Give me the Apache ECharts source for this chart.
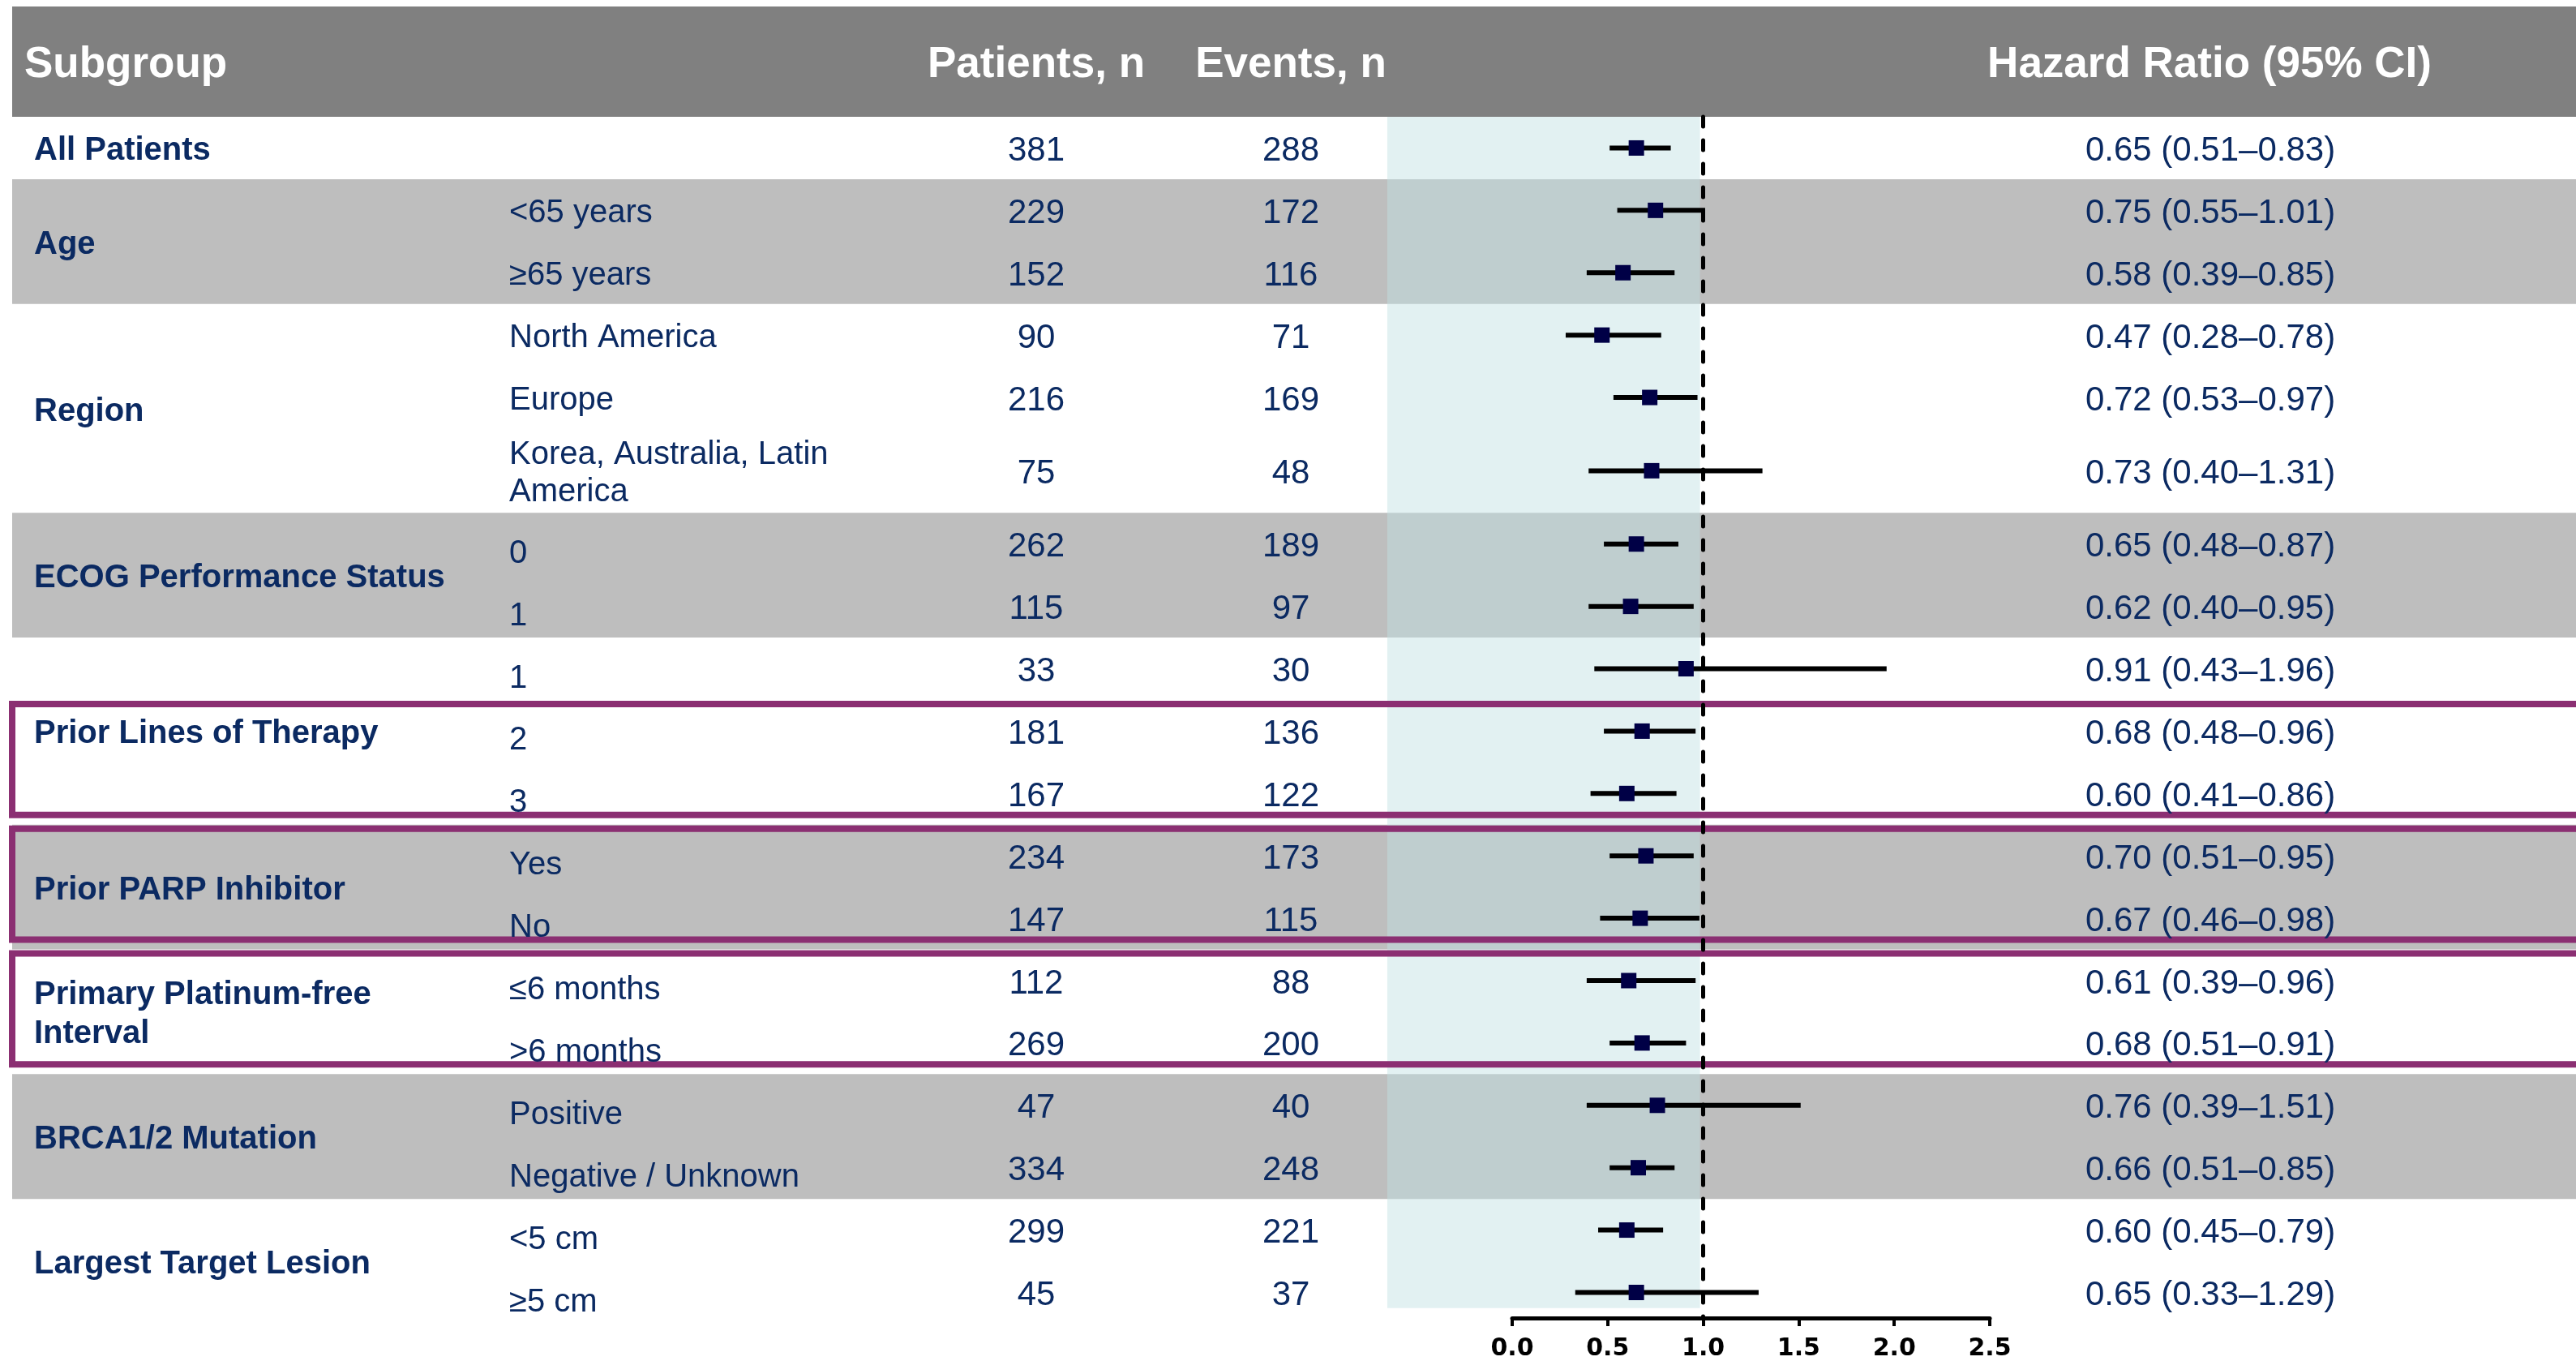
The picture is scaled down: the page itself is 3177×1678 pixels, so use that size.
<!DOCTYPE html>
<html>
<head>
<meta charset="utf-8">
<title>Subgroup forest plot</title>
<script src="https://cdn.jsdelivr.net/npm/echarts@6/dist/echarts.min.js"></script>
<style>
  html, body { margin: 0; padding: 0; background: #fff; }
  #chart { width: 3177px; height: 1678px; }
</style>
</head>
<body>
<div id="chart"></div>
<script>
// subgroups and rows
const groupNames = [
  'All Patients', 'Age', 'Region', 'ECOG Performance Status', 'Prior Lines of Therapy',
  'Prior PARP Inhibitor', 'Primary Platinum-free\nInterval', 'BRCA1/2 Mutation', 'Largest Target Lesion'
]
const rowGroup = [0, 1, 1, 2, 2, 2, 3, 3, 4, 4, 4, 5, 5, 6, 6, 7, 7, 8, 8]
const subLabels = [
  '', '<65 years', '≥65 years', 'North America', 'Europe', 'Korea, Australia, Latin\nAmerica',
  '0', '1', '1', '2', '3', 'Yes', 'No', '≤6 months', '>6 months',
  'Positive', 'Negative / Unknown', '<5 cm', '≥5 cm'
]
const patients = [381, 229, 152, 90, 216, 75, 262, 115, 33, 181, 167, 234, 147, 112, 269, 47, 334, 299, 45]
const events = [288, 172, 116, 71, 169, 48, 189, 97, 30, 136, 122, 173, 115, 88, 200, 40, 248, 221, 37]
const hazardRatio = [0.65, 0.75, 0.58, 0.47, 0.72, 0.73, 0.65, 0.62, 0.91, 0.68, 0.60, 0.70, 0.67, 0.61, 0.68, 0.76, 0.66, 0.60, 0.65]
const ciLower = [0.51, 0.55, 0.39, 0.28, 0.53, 0.40, 0.48, 0.40, 0.43, 0.48, 0.41, 0.51, 0.46, 0.39, 0.51, 0.39, 0.51, 0.45, 0.33]
const ciUpper = [0.83, 1.01, 0.85, 0.78, 0.97, 1.31, 0.87, 0.95, 1.96, 0.96, 0.86, 0.95, 0.98, 0.96, 0.91, 1.51, 0.85, 0.79, 1.29]
const xTicks = ['0.0', '0.5', '1.0', '1.5', '2.0', '2.5']
// rows framed in purple (first and last row index)
const boxedRows = [[9, 10], [11, 12], [13, 14]]

const NAVY = '#0b2a62'
const FONT = '"Liberation Sans", Arial, sans-serif'
const TEXT_DY = 4

// row layout in row units (two-line rows are a bit taller)
const rowTop = []
const rowBottom = []
let acc = 0
subLabels.forEach((s) => {
  const h = 1 + 0.35 * (s.split('\n').length - 1)
  rowTop.push(acc)
  acc += h
  rowBottom.push(acc)
})
const rowMid = rowTop.map((t, i) => (t + rowBottom[i]) / 2)

const groupTop = groupNames.map((_, g) => Math.min(...rowTop.filter((_, i) => rowGroup[i] === g)))
const groupBottom = groupNames.map((_, g) => Math.max(...rowBottom.filter((_, i) => rowGroup[i] === g)))
const shadedGroups = groupNames.map((_, g) => g).filter(g => g % 2 === 1)

const hrText = hazardRatio.map((v, i) =>
  `${v.toFixed(2)} (${ciLower[i].toFixed(2)}–${ciUpper[i].toFixed(2)})`)

const chart = echarts.init(document.getElementById('chart'))

const headerText = (text, x, align) => ({
  type: 'text', x: x, y: 80,
  style: {
    text: text, fill: '#fff', fontSize: 53, fontWeight: 'bold', fontFamily: FONT,
    textAlign: align, textVerticalAlign: 'middle'
  }
})

const option = {
  animation: false,
  backgroundColor: '#fff',
  grid: { left: 1865, width: 589, top: 144, bottom: 53 },
  xAxis: {
    type: 'value',
    position: 'bottom',
    min: 0,
    max: 2.5,
    interval: 0.5,
    splitLine: { show: false },
    axisLine: { show: true, onZero: false, lineStyle: { color: '#000', width: 5 } },
    axisTick: { show: true, length: 10, lineStyle: { color: '#000', width: 4 } },
    axisLabel: {
      margin: 23,
      color: '#000',
      fontFamily: '"DejaVu Sans", sans-serif',
      fontWeight: 'bold',
      fontSize: 30,
      formatter: (v) => xTicks[Math.round(v / 0.5)]
    }
  },
  yAxis: {
    type: 'value',
    inverse: true,
    min: 0,
    max: 19.26,
    show: false
  },
  graphic: [
    { type: 'rect', x: 15, y: 8, shape: { width: 3162, height: 136 }, style: { fill: '#808080' }, z: 0 },
    headerText('Subgroup', 30, 'left'),
    headerText('Patients, n', 1278, 'center'),
    headerText('Events, n', 1592, 'center'),
    headerText('Hazard Ratio (95% CI)', 2725, 'center')
  ],
  series: [
    {
      // grey group bands across the whole table
      name: 'bands',
      type: 'custom',
      clip: false,
      silent: true,
      z: 1,
      encode: { x: 0, y: [1, 2] },
      data: shadedGroups.map(g => [0, groupTop[g], groupBottom[g]]),
      renderItem: (params, api) => {
        const y1 = api.coord([0, api.value(1)])[1]
        const y2 = api.coord([0, api.value(2)])[1]
        return {
          type: 'rect',
          shape: { x: 15, y: y1, width: api.getWidth() - 15, height: y2 - y1 },
          style: { fill: '#bebebe' }
        }
      }
    },
    {
      // light band for HR < 1
      name: 'favours',
      type: 'custom',
      clip: false,
      silent: true,
      z: 2,
      encode: { x: [0, 1], y: [2, 3] },
      data: [[-0.654, 0.983, 0, rowMid[rowMid.length - 1] + 0.25]],
      renderItem: (params, api) => {
        const p1 = api.coord([api.value(0), api.value(2)])
        const p2 = api.coord([api.value(1), api.value(3)])
        return {
          type: 'rect',
          shape: { x: p1[0], y: p1[1], width: p2[0] - p1[0], height: p2[1] - p1[1] },
          style: { fill: 'rgba(193,225,228,0.47)' }
        }
      }
    },
    {
      // purple frames
      name: 'frames',
      type: 'custom',
      clip: false,
      silent: true,
      z: 3,
      encode: { x: 0, y: [1, 2] },
      data: boxedRows.map(r => [0, rowTop[r[0]], rowBottom[r[1]]]),
      renderItem: (params, api) => {
        const y1 = api.coord([0, api.value(1)])[1] + 5
        const y2 = api.coord([0, api.value(2)])[1] - 12
        return {
          type: 'rect',
          shape: { x: 15, y: y1, width: api.getWidth() + 40, height: y2 - y1 },
          style: { fill: 'none', stroke: '#8b2f72', lineWidth: 8 }
        }
      }
    },
    {
      name: 'ci',
      type: 'custom',
      z: 4,
      encode: { x: [0, 1], y: 2 },
      data: hazardRatio.map((_, i) => [ciLower[i], ciUpper[i], rowMid[i]]),
      renderItem: (params, api) => {
        const a = api.coord([api.value(0), api.value(2)])
        const b = api.coord([api.value(1), api.value(2)])
        return {
          type: 'line',
          shape: { x1: a[0], y1: a[1], x2: b[0], y2: b[1] },
          style: { stroke: '#000', lineWidth: 6 }
        }
      }
    },
    {
      name: 'HR',
      type: 'scatter',
      z: 5,
      symbol: 'rect',
      symbolSize: [19, 19],
      itemStyle: { color: '#000046', opacity: 1 },
      data: hazardRatio.map((v, i) => [v, rowMid[i]]),
      markLine: {
        silent: true,
        symbol: ['none', 'none'],
        label: { show: false },
        lineStyle: { color: '#000', width: 5, type: [12, 17], cap: 'round' },
        data: [{ xAxis: 1 }]
      }
    },
    {
      // table text per row
      name: 'rowText',
      type: 'custom',
      clip: false,
      silent: true,
      z: 6,
      encode: { x: 0, y: 1 },
      data: subLabels.map((_, i) => [0, rowMid[i], i]),
      renderItem: (params, api) => {
        const i = api.value(2)
        const y = api.coord([0, api.value(1)])[1] + TEXT_DY
        const drop = rowGroup[i] >= 3 ? 8 : 0
        const txt = (text, x, align, size, dy) => ({
          type: 'text',
          x: x,
          y: y + dy,
          style: {
            text: text, fill: NAVY, fontSize: size, fontFamily: FONT,
            textAlign: align, textVerticalAlign: 'middle', lineHeight: 46
          }
        })
        return {
          type: 'group',
          children: [
            txt(subLabels[i], 628, 'left', 40, drop),
            txt(String(patients[i]), 1278, 'center', 42, 0),
            txt(String(events[i]), 1592, 'center', 42, 0),
            txt(hrText[i], 2726, 'center', 42, 0)
          ]
        }
      }
    },
    {
      // group labels
      name: 'groupText',
      type: 'custom',
      clip: false,
      silent: true,
      z: 6,
      encode: { x: 0, y: 1 },
      data: groupNames.map((_, g) => [0, (groupTop[g] + groupBottom[g]) / 2, g]),
      renderItem: (params, api) => {
        const g = api.value(2)
        const y = api.coord([0, api.value(1)])[1] + TEXT_DY
        return {
          type: 'text',
          x: 42,
          y: y,
          style: {
            text: groupNames[g], fill: NAVY, fontSize: 40, fontWeight: 'bold', fontFamily: FONT,
            textAlign: 'left', textVerticalAlign: 'middle', lineHeight: 48
          }
        }
      }
    }
  ]
}

chart.setOption(option)
window.addEventListener('resize', () => chart.resize())
</script>
</body>
</html>
